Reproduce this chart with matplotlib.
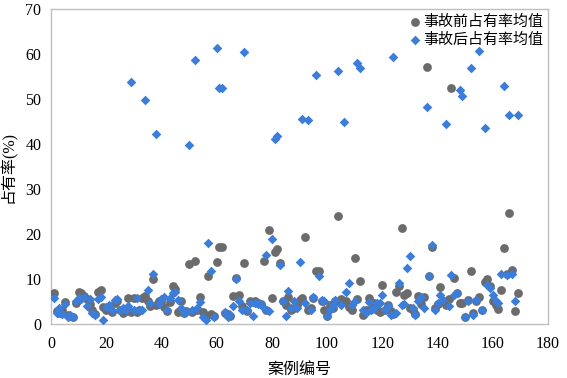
import matplotlib
matplotlib.use("Agg")
import matplotlib.pyplot as plt
from matplotlib import font_manager

serif_names = [f.name for f in font_manager.fontManager.ttflist if 'Serif' in f.name or 'Times' in f.name]
serif_font = 'Liberation Serif' if 'Liberation Serif' in serif_names else 'DejaVu Serif'

plt.rcParams['font.family'] = [serif_font, 'Noto Sans CJK SC', 'DejaVu Sans']

# case numbers 1..169
cases = list(range(1, 170))

before = [
    6.8, 2.8, 2.5, 3.0, 4.8, 2.0, 1.8, 1.6, 4.6, 7.0,
    6.8, 6.2, 5.5, 4.5, 3.2, 2.2, 7.2, 7.6, 3.8, 3.0,
    3.5, 2.6, 4.6, 5.2, 3.0, 2.4, 2.8, 5.8, 2.6, 5.7,
    2.7, 3.0, 5.8, 6.2, 5.2, 4.1, 9.9, 4.3, 5.2, 5.0,
    3.8, 2.8, 4.8, 8.4, 7.8, 2.6, 5.0, 2.5, 2.8, 13.3,
    2.6, 14.0, 3.2, 6.0, 2.6, 1.8, 10.7, 2.2, 1.8, 13.8,
    17.2, 17.2, 2.5, 2.2, 1.8, 6.2, 10.2, 6.5, 4.0, 13.6,
    2.8, 5.0, 4.8, 5.2, 4.6, 4.4, 14.1, 3.0, 20.8, 5.8,
    16.1, 16.7, 13.6, 5.0, 4.3, 6.1, 3.2, 3.6, 4.2, 5.4,
    5.8, 19.3, 3.2, 3.5, 5.8, 11.8, 11.7, 5.2, 3.0, 1.7,
    4.3, 3.5, 5.0, 23.9, 5.5, 4.8, 5.2, 3.8, 3.2, 14.6,
    5.6, 9.5, 2.0, 3.0, 5.8, 3.3, 4.7, 3.0, 2.6, 8.7,
    3.2, 4.3, 2.8, 2.2, 7.0, 8.5, 21.4, 6.5, 6.9, 3.6,
    3.2, 2.2, 6.2, 4.4, 5.9, 57.2, 10.7, 17.1, 3.6, 4.5,
    8.3, 5.2, 4.3, 5.6, 52.4, 10.2, 6.9, 4.6, 4.6, 1.6,
    5.4, 11.7, 2.4, 5.0, 6.0, 3.1, 9.4, 10.1, 8.4, 5.2,
    4.2, 3.3, 7.5, 16.9, 11.2, 24.6, 12.1, 2.8, 6.9,
]

after = [
    5.7, 2.5, 3.5, 2.2, 4.5, 1.6, 2.0, 1.5, 5.2, 5.8,
    5.6, 6.0, 4.0, 5.6, 2.5, 2.0, 5.6, 6.0, 0.8, 3.8,
    4.2, 3.2, 5.3, 5.6, 3.2, 3.6, 3.0, 4.0, 53.7, 3.2,
    5.7, 3.0, 3.2, 49.8, 7.5, 4.7, 11.2, 42.3, 4.5, 5.5,
    6.0, 3.2, 5.8, 6.9, 7.0, 5.4, 3.5, 2.4, 2.6, 39.7,
    3.0, 58.7, 3.5, 4.8, 1.5, 0.9, 18.0, 11.8, 1.5, 61.4,
    52.5, 52.5, 2.6, 1.6, 2.0, 4.0, 9.9, 5.0, 3.0, 60.5,
    3.2, 4.7, 1.7, 4.6, 4.5, 4.4, 3.5, 15.3, 2.8, 18.8,
    41.2, 41.8, 13.0, 5.1, 1.8, 7.3, 3.6, 5.0, 3.6, 13.8,
    45.5, 4.7, 45.3, 3.2, 6.1, 55.3, 10.6, 5.4, 5.0, 1.7,
    3.2, 4.3, 5.4, 56.2, 4.3, 45.0, 7.0, 9.1, 4.3, 5.0,
    58.1, 56.9, 3.2, 2.5, 4.9, 3.2, 3.6, 4.7, 4.7, 6.5,
    3.0, 4.0, 1.9, 59.3, 2.4, 9.1, 4.3, 4.5, 12.5, 15.0,
    3.6, 1.9, 5.0, 6.0, 3.5, 48.3, 10.7, 17.6, 3.2, 4.7,
    6.5, 5.4, 44.4, 4.0, 10.9, 6.5, 6.9, 51.9, 50.7, 1.5,
    5.0, 57.0, 1.9, 5.4, 60.7, 3.2, 43.6, 8.7, 8.0, 6.5,
    5.0, 4.6, 11.0, 53.0, 10.8, 46.5, 11.2, 5.1, 46.4,
]

series_names = ['事故前占有率均值', '事故后占有率均值']
x_label = '案例编号'
y_label = '占有率(%)'

fig = plt.figure(figsize=(5.67, 3.78), dpi=100)
ax = fig.add_axes([0.09, 0.143, 0.8765, 0.833])

ax.scatter(cases, before, marker='o', s=40, color='#6b6b6b', linewidths=0,
           label=series_names[0], zorder=3)
ax.scatter(cases, after, marker='D', s=24, color='#3b7dd8', linewidths=0,
           label=series_names[1], zorder=4)

ax.set_xlim(0, 180)
ax.set_ylim(0, 70)
ax.set_xticks(range(0, 181, 20))
ax.set_yticks(range(0, 71, 10))
ax.tick_params(axis='both', length=0, labelsize=11.5, colors='#000000')
ax.tick_params(axis='x', pad=9)
ax.tick_params(axis='y', pad=7)
for lbl in ax.get_xticklabels() + ax.get_yticklabels():
    lbl.set_fontfamily([serif_font])
for sp in ax.spines.values():
    sp.set_color('#bfbfbf')
    sp.set_linewidth(1.0)

ax.set_xlabel(x_label, fontsize=11.5, labelpad=7)
ax.set_ylabel(y_label, fontsize=11.5, labelpad=6)

leg = ax.legend(loc='upper right', frameon=False, fontsize=10.8,
                handletextpad=0.05, borderaxespad=0.1, labelspacing=0.3,
                handlelength=1.0, borderpad=0.25)

fig.savefig('out.png', dpi=100)
